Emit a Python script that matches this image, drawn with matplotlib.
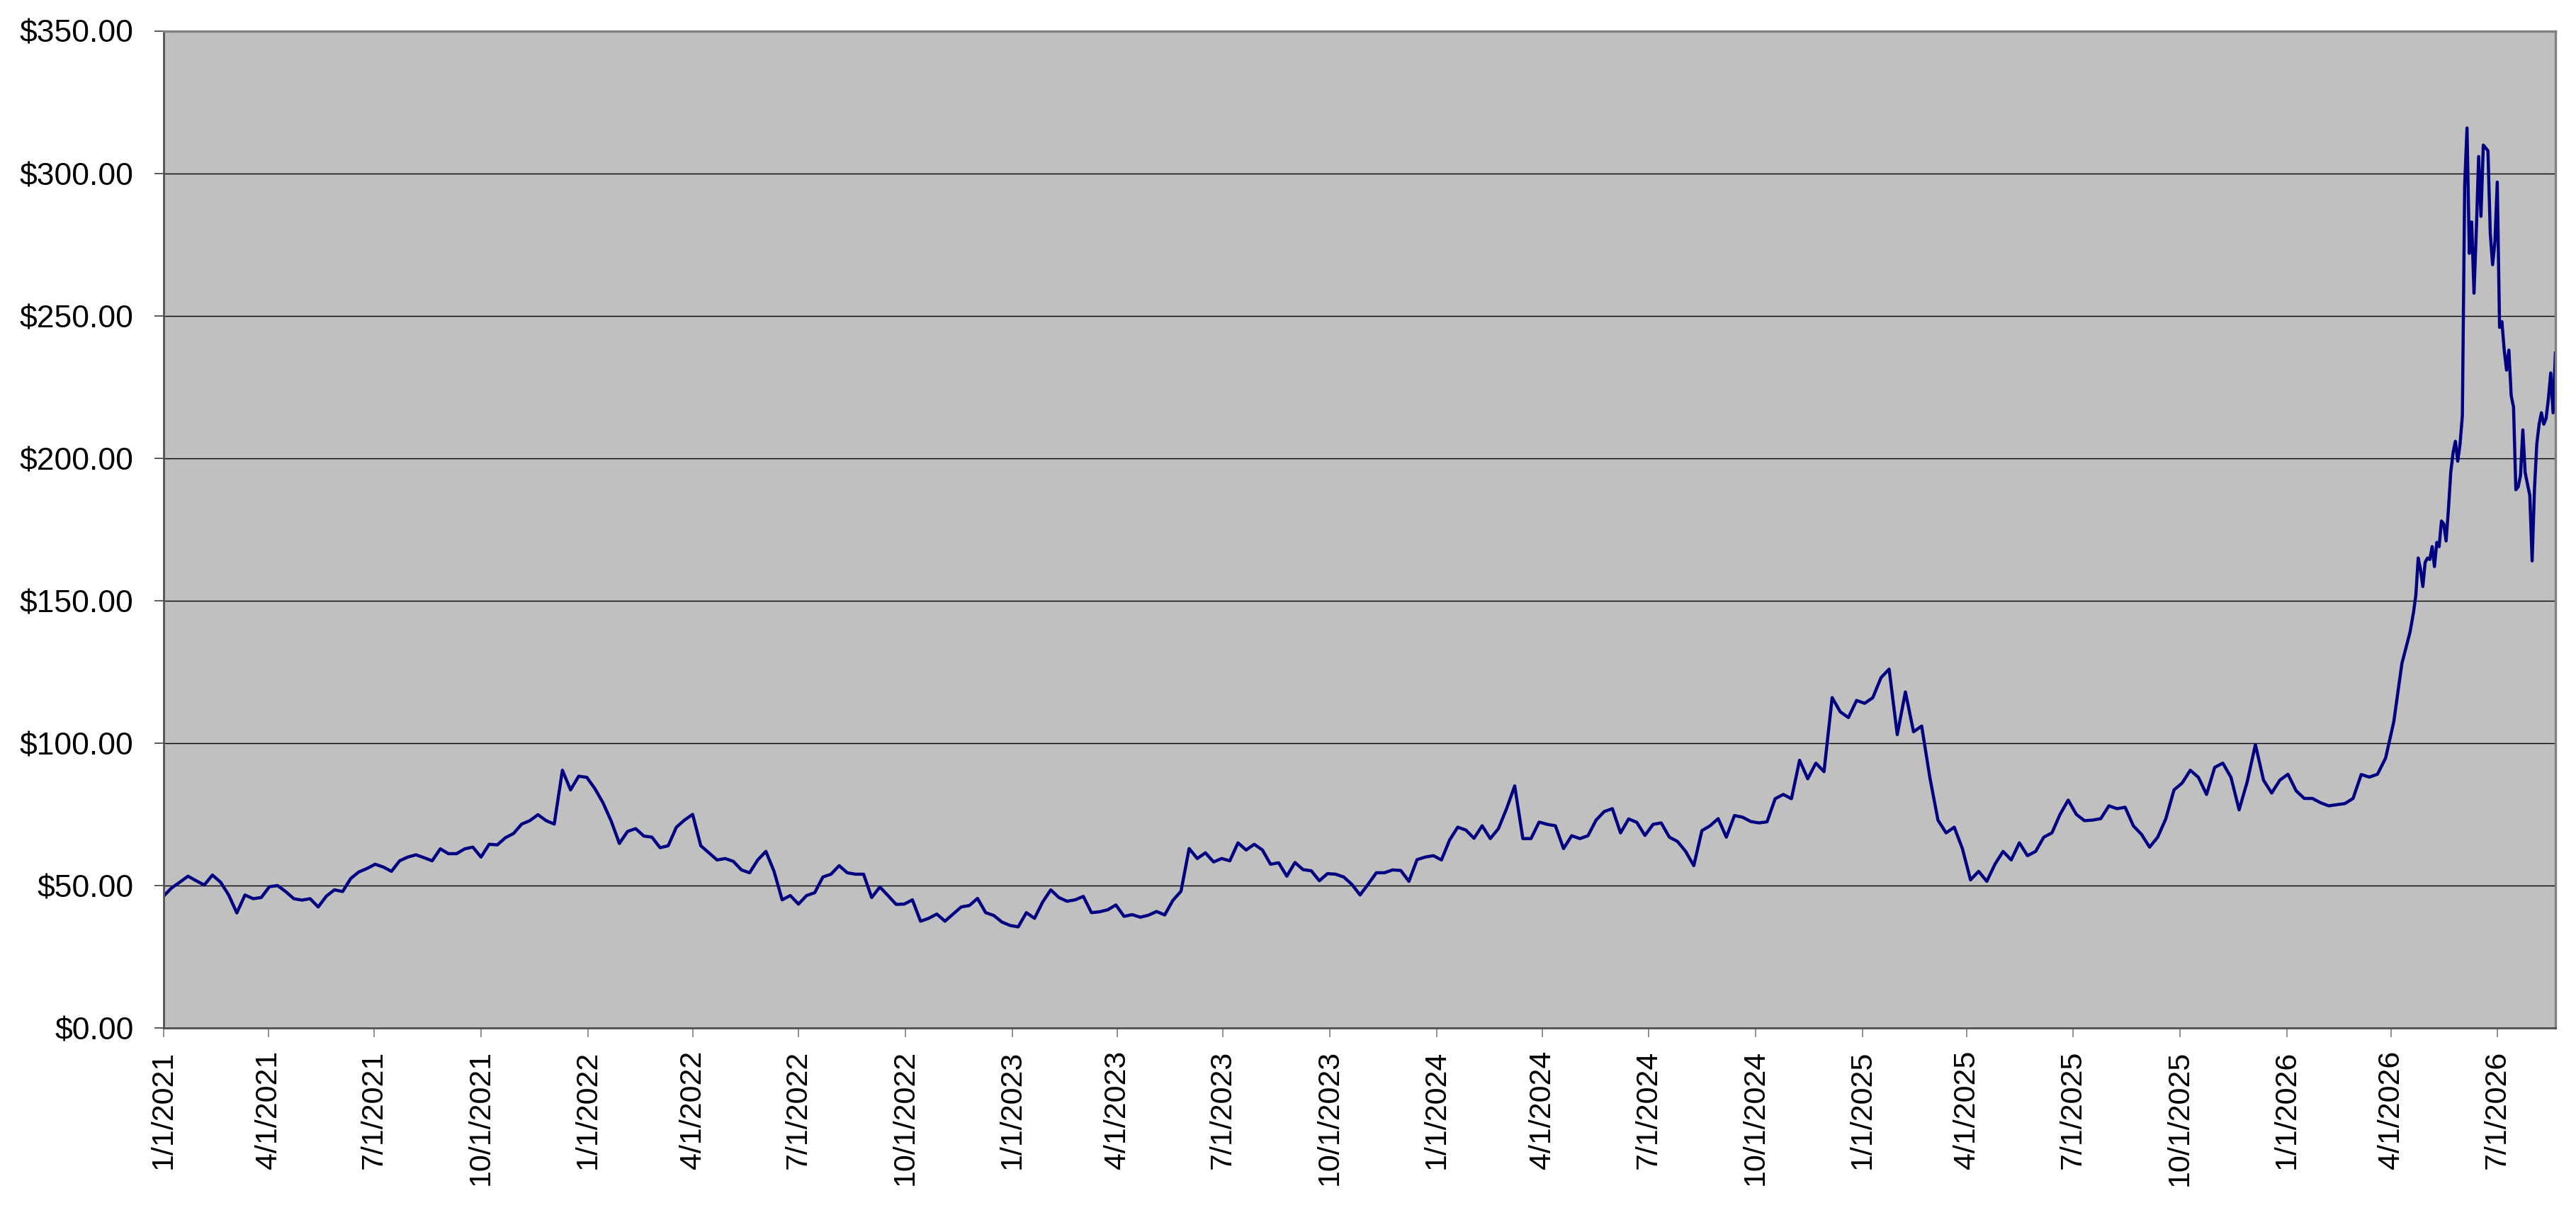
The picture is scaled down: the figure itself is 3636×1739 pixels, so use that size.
"""Weekly closing price line, Excel-style grey plot area."""

import matplotlib

matplotlib.use("Agg")

import matplotlib.pyplot as plt
import pandas as pd
from matplotlib.ticker import FuncFormatter, MultipleLocator

plt.rcParams["font.family"] = ["Liberation Sans", "DejaVu Sans"]

START = "2021-01-01"
LATE_START = "2026-04-20"

# weekly closes, one list per calendar year
vals_2021 = [46.3, 49.2, 51.2, 53.3, 51.7, 50.2, 53.7, 51.2, 46.7, 40.4,
             46.7, 45.4, 45.8, 49.6, 50.0, 47.9, 45.4, 44.9, 45.4, 42.5,
             46.3, 48.5, 47.9, 52.5, 54.8, 56.0, 57.5, 56.5, 55.0, 58.7,
             60.0, 60.8, 59.8, 58.7, 62.9, 61.2, 61.2, 62.9, 63.5, 60.0,
             64.5, 64.3, 66.8, 68.3, 71.6, 72.8, 74.9, 72.8, 71.6, 90.5,
             83.6, 88.4, 88.0]
vals_2022 = [84.0, 79.0, 72.6, 64.8, 69.0, 70.0, 67.4, 67.0, 63.3, 64.0,
             70.5, 73.0, 75.0, 64.0, 61.5, 59.0, 59.5, 58.5, 55.5, 54.5,
             59.0, 62.0, 55.0, 45.0, 46.5, 43.5, 46.5, 47.5, 53.0, 54.0,
             57.0, 54.5, 54.0, 54.0, 45.8, 49.5, 46.5, 43.4, 43.5, 45.0,
             37.5, 38.5, 40.0, 37.5, 40.0, 42.5, 43.0, 45.5, 40.5, 39.5,
             37.2, 36.0]
vals_2023 = [35.5, 40.5, 38.5, 44.2, 48.5, 45.8, 44.5, 45.0, 46.2, 40.5,
             40.8, 41.5, 43.2, 39.2, 39.8, 38.9, 39.6, 40.9, 39.7, 44.8,
             48.0, 63.0, 59.5, 61.5, 58.3, 59.5, 58.7, 65.0, 62.5, 64.5,
             62.5, 57.5, 58.0, 53.3, 58.1, 55.6, 55.2, 51.7, 54.2, 54.0,
             53.0, 50.4, 46.7, 50.5, 54.5, 54.5, 55.5, 55.3, 51.5, 59.1,
             60.0, 60.5]
vals_2024 = [59.0, 66.0, 70.5, 69.5, 66.6, 71.0, 66.5, 70.0, 77.0, 85.0,
             66.5, 66.5, 72.3, 71.5, 71.0, 63.0, 67.5, 66.5, 67.5, 73.0,
             76.0, 77.0, 68.5, 73.4, 72.2, 67.6, 71.5, 72.0, 67.0, 65.5,
             62.0, 57.0, 69.3, 71.0, 73.5, 67.0, 74.6, 74.0, 72.5, 72.0,
             72.4, 80.5, 82.0, 80.5, 94.0, 87.5, 93.0, 90.0, 116.0, 111.0,
             109.0, 115.0]
vals_2025 = [114.0, 116.0, 123.0, 126.0, 103.0, 118.0, 104.0, 106.0, 88.0, 73.0,
             68.5, 70.5, 63.0, 52.0, 55.0, 51.5, 57.5, 62.0, 59.0, 65.0,
             60.5, 62.0, 67.0, 68.5, 75.0, 80.0, 75.0, 72.8, 73.0, 73.5,
             78.0, 77.0, 77.5, 71.0, 68.0, 63.5, 67.0, 73.5, 83.6, 86.0,
             90.5, 88.0, 82.0, 91.5, 93.0, 88.0, 76.6, 86.5, 99.5, 87.0,
             82.5, 87.0]
vals_2026_early = [89.1, 83.3, 80.6, 80.6, 79.1, 78.0, 78.4, 78.8, 80.6, 89.0,
                   88.1, 89.1, 94.8, 107.5, 128.0, 139.0]

# from late April 2026 the series swings hard, so it is read every second day
vals_2026_late = [146.0, 152.0, 165.0, 161.0, 155.0, 163.5, 165.0, 164.5, 169.0, 162.0,
                  170.5, 169.0, 178.0, 177.0, 171.0, 182.0, 195.0, 202.0, 206.0, 199.0,
                  205.0, 215.0, 296.0, 316.0, 272.0, 283.0, 258.0, 280.0, 306.0, 285.0,
                  310.0, 309.0, 308.0, 279.0, 268.0, 276.0, 297.0, 246.0, 248.0, 238.0,
                  231.0, 238.0, 222.0, 218.0, 189.0, 190.0, 194.0, 210.0, 195.0, 191.0,
                  187.0, 164.0, 189.0, 205.0, 212.0, 216.0, 212.0, 214.0, 221.0, 230.0,
                  216.0, 237.0]

weekly = vals_2021 + vals_2022 + vals_2023 + vals_2024 + vals_2025 + vals_2026_early
weekly_dates = pd.date_range(START, periods=len(weekly), freq="7D")
late_dates = pd.date_range(LATE_START, periods=len(vals_2026_late), freq="2D")

dates = weekly_dates.append(late_dates)
prices = weekly + vals_2026_late
tick_dates = pd.date_range("2021-01-01", "2026-07-01", freq="QS")

fig = plt.figure(figsize=(36.36, 17.39), dpi=100)
ax = fig.add_axes([0.0635, 0.1656, 0.9285, 0.8091])
ax.set_facecolor("#C0C0C0")

ax.plot(dates, prices, color="#000080", linewidth=3.2)

ax.set_ylim(0, 350)
ax.yaxis.set_major_locator(MultipleLocator(50))
ax.yaxis.set_major_formatter(FuncFormatter(lambda v, _: f"${v:,.2f}"))
ax.yaxis.grid(True, color="black", linewidth=1.0)
ax.set_axisbelow(True)

ax.set_xlim(dates[0], dates[-1])
ax.set_xticks(tick_dates)
ax.set_xticklabels([f"{d.month}/{d.day}/{d.year}" for d in tick_dates])

ax.tick_params(axis="y", direction="out", length=9.5, width=1.2,
               color="#404040", pad=21, labelsize=32)
ax.tick_params(axis="x", direction="out", length=9.5, width=1.2,
               color="#808080", pad=13, labelsize=31, labelrotation=90)

for side in ("top", "right"):
    ax.spines[side].set_color("#808080")
    ax.spines[side].set_linewidth(2.4)
for side in ("left", "bottom"):
    ax.spines[side].set_color("#505050")
    ax.spines[side].set_linewidth(2.0)

fig.savefig("out.png", dpi=100)
plt.close(fig)
